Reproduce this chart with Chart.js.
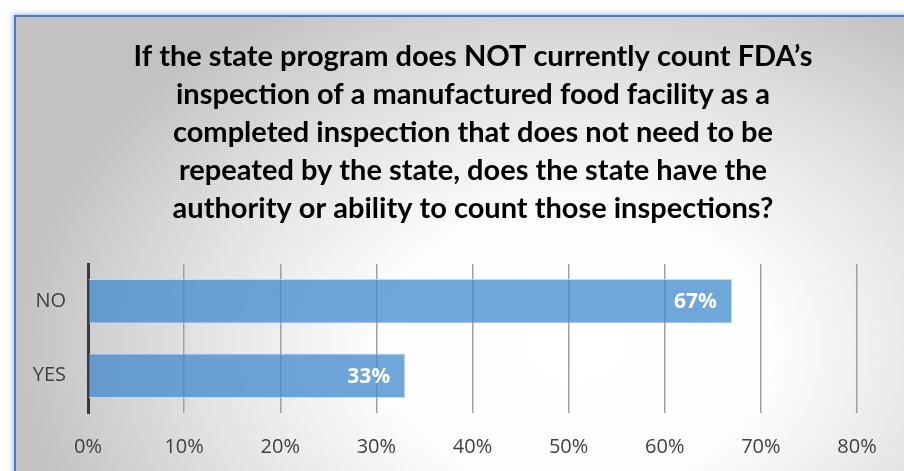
<!DOCTYPE html>
<html>
<head>
<meta charset="utf-8">
<script src="https://cdn.jsdelivr.net/npm/chart.js@4"></script>
<style>
  html, body { margin: 0; padding: 0; width: 904px; height: 471px; overflow: hidden; background: #ffffff; }
  #frame {
    position: absolute; left: 14px; top: 15px; width: 930px; height: 480px;
    border: 2px solid #4a78c8;
    box-shadow: 0 0 5px 1px rgba(80, 130, 220, 0.55);
    background: radial-gradient(ellipse 560px 400px at 560px 330px, #ffffff 0%, #fdfdfd 35%, #e2e2e2 68%, #c2c2c2 100%);
  }
  #wrap { position: absolute; left: 0; top: 0; width: 904px; height: 471px; }
</style>
</head>
<body>
<div id="frame"></div>
<div id="wrap"><canvas id="c"></canvas></div>
<script>
const titleLines = [
  "If the state program does NOT currently count FDA\u2019s",
  "inspection of a manufactured food facility as a",
  "completed inspection that does not need to be",
  "repeated by the state, does the state have the",
  "authority or ability to count those inspections?"
];
const categories = ["NO", "YES"];
const values = [67, 33];
const tickLabels = ["0%", "10%", "20%", "30%", "40%", "50%", "60%", "70%", "80%"];

const titlePlugin = {
  id: 'customTitle',
  afterDraw(chart) {
    const ctx = chart.ctx;
    ctx.save();
    ctx.fillStyle = '#000000';
    ctx.font = 'bold 29px Lato';
    ctx.textAlign = 'center';
    ctx.textBaseline = 'alphabetic';
    titleLines.forEach((t, i) => ctx.fillText(t, 473, 66 + i * 38));
    ctx.restore();
  }
};

const labelPlugin = {
  id: 'barLabels',
  afterDatasetsDraw(chart) {
    const ctx = chart.ctx;
    const meta = chart.getDatasetMeta(0);
    ctx.save();
    ctx.fillStyle = '#ffffff';
    ctx.font = 'bold 21px "Open Sans"';
    ctx.textAlign = 'right';
    ctx.textBaseline = 'middle';
    meta.data.forEach((bar, i) => {
      ctx.fillText(values[i] + '%', bar.x - 15, bar.y + 1);
    });
    ctx.restore();
  }
};

new Chart(document.getElementById('c'), {
  type: 'bar',
  data: {
    labels: categories,
    datasets: [{
      data: values,
      backgroundColor: 'rgba(64,138,206,0.75)',
      borderColor: 'rgba(190,215,240,0.9)',
      borderWidth: 1,
      categoryPercentage: 1.0,
      barPercentage: 0.6
    }]
  },
  options: {
    indexAxis: 'y',
    responsive: true,
    maintainAspectRatio: false,
    animation: false,
    layout: { padding: { top: 264, left: 0, right: 47, bottom: 0 } },
    plugins: { legend: { display: false }, title: { display: false }, tooltip: { enabled: false } },
    scales: {
      x: {
        min: 0, max: 80,
        ticks: {
          stepSize: 10,
          padding: 22,
          color: '#404040',
          font: { family: '"Open Sans"', size: 20 },
          callback: (v, i) => tickLabels[i]
        },
        grid: { color: '#a0a0a0', lineWidth: 1.5, drawTicks: false },
        border: { display: false },
        afterFit(s) { s.height = 58; }
      },
      y: {
        ticks: {
          padding: 22,
          color: '#404040',
          font: { family: '"Open Sans"', size: 20 }
        },
        grid: { display: false, drawTicks: false },
        border: { display: true, color: '#3a3a3a', width: 3 },
        afterFit(s) { s.width = 88; }
      }
    }
  },
  plugins: [titlePlugin, labelPlugin]
});
</script>
</body>
</html>
